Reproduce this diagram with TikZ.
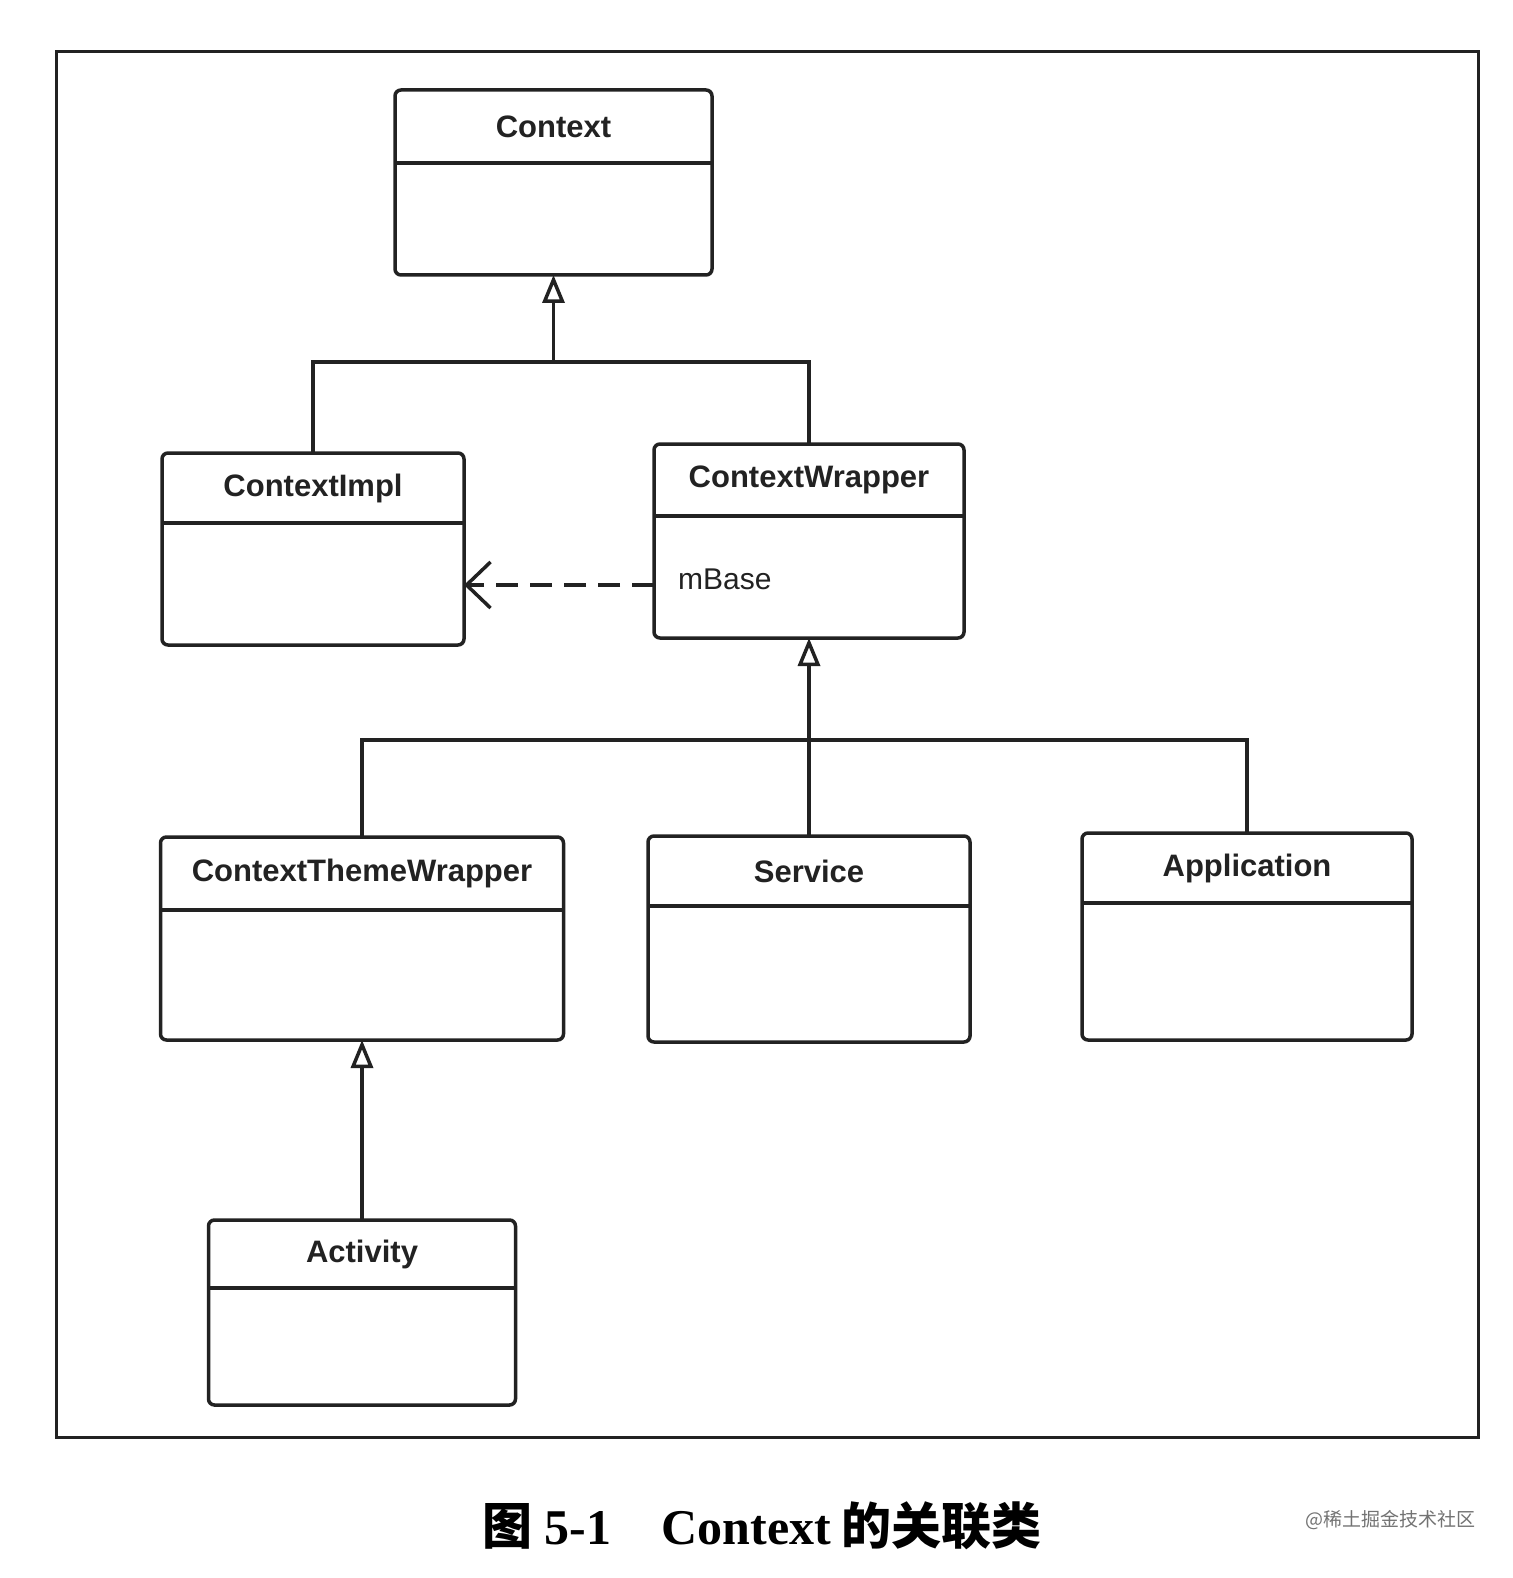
\documentclass[tikz,border=0pt]{standalone}
\usepackage{fontspec}
\setmainfont{Liberation Sans}
\newfontfamily\cjk{Noto Sans CJK SC}
\newfontfamily\capserif{Liberation Serif}
\usetikzlibrary{arrows.meta}
\definecolor{ink}{HTML}{222222}
\tikzset{
  umlbox/.style={draw=ink, line width=3.5pt, rounded corners=6pt, inner sep=0pt, outer sep=0pt, fill=white},
  divline/.style={draw=ink, line width=3.5pt},
  titletext/.style={font=\bfseries\fontsize{31}{36}\selectfont, text=ink, inner sep=0pt},
  attrtext/.style={font=\fontsize{30}{34}\selectfont, text=ink, inner sep=0pt},
  conn/.style={draw=ink, line width=3.5pt},
  inherit/.style={conn, -{Triangle[open, length=28pt, width=22pt]}},
  dep/.style={conn, dash pattern=on 22pt off 12pt, -{Straight Barb[length=24pt, width=46pt]}},
}
\newcommand\umlclass[7]{%
  \node[umlbox, minimum width=#4pt, minimum height=#5pt] (#1) at (#2,#3) {};
  \draw[divline] ([yshift=-#6pt]#1.north west) -- ([yshift=-#6pt]#1.north east);
  \node[titletext] (#1-t) at ([yshift=-#6pt/2]#1.north) {#7};
}
\begin{document}
\begin{tikzpicture}[x=1pt, y=-1pt]
\useasboundingbox (0,0) rectangle (1512,1578);
\fill[white] (0,0) rectangle (1512,1578);
% outer frame
\draw[ink, line width=3pt] (56,52) rectangle (1478,1437);
% classes
\umlclass{context}{553.5}{182.5}{317}{185}{73}{Context}
\umlclass{cimpl}{313}{549}{302}{192}{70}{ContextImpl}
\umlclass{cwrap}{809}{541}{310}{194}{72}{ContextWrapper}
\umlclass{ctw}{362}{938.5}{403}{203}{73}{ContextThemeWrapper}
\umlclass{service}{809}{939}{322}{206}{70}{Service}
\umlclass{app}{1247}{936.5}{330}{207}{70}{Application}
\umlclass{act}{362}{1312.5}{307}{185}{68}{Activity}
\node[attrtext, anchor=west] (mbase) at (678,579) {mBase};
% junction coordinates
\coordinate (j1) at (context.south |- 0,362);
\coordinate (j2) at (cwrap.south |- 0,740);
% inheritance to Context
\draw[conn] (cimpl.north) |- (j1) -| (cwrap.north);
\draw[inherit] (j1) -- (context.south);
% dependency mBase -> ContextImpl
\draw[dep] (cwrap.west |- 0,585) -- (cimpl.east |- 0,585);
% inheritance to ContextWrapper
\draw[conn] (ctw.north) |- (j2) -| (app.north);
\draw[conn] (service.north) -- (j2);
\draw[inherit] (j2) -- (cwrap.south);
% Activity -> ContextThemeWrapper
\draw[inherit] (act.north) -- (ctw.south);
% caption
\node[inner sep=0pt, text=black] (caption) at (762,1526)
  {\bfseries\fontsize{50}{54}\selectfont{\cjk 图}\hspace{12pt}{\capserif 5-1}\hspace{50pt}{\capserif Context}\hspace{10pt}{\cjk 的关联类}};
\node[inner sep=0pt, text=black!55, anchor=west] (wm) at (1305,1520)
  {\cjk\fontsize{19}{22}\selectfont @稀土掘金技术社区};
\end{tikzpicture}
\end{document}
